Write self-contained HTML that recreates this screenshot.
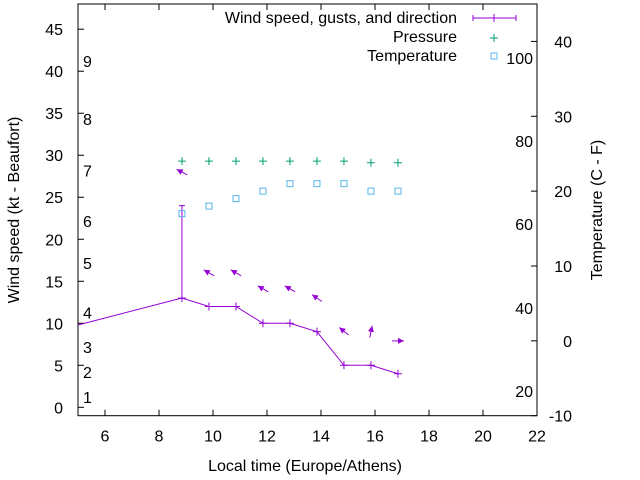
<!DOCTYPE html>
<html><head><meta charset="utf-8"><style>
body{margin:0;background:#fff}
svg{display:block;font-family:"Liberation Sans",sans-serif;font-size:16px}
</style></head><body>
<svg id="c" width="640" height="480" viewBox="0 0 640 480">
<g id="axes"></g><g id="marks"></g>
</svg>
<script>
const times=[8.85,9.85,10.85,11.85,12.85,13.85,14.85,15.85,16.85];
const windSpeed=[13,12,12,10,10,9,5,5,4];
const windStartTime=5, windStartValue=9.8;
const gustTime=8.85, gustLow=13, gustHigh=24;
const pressure=[29.3,29.3,29.3,29.3,29.3,29.3,29.3,29.1,29.1];
const temperature=[17,18,19,20,21,21,21,20,20];
const arrowY=[28,16,16,14.1,14.1,13,9.05,9,7.9];
const arrowDir=[153,150,150,150,150,145,141,79,0];
const xTicks=[6,8,10,12,14,16,18,20,22];
const yTicks=[0,5,10,15,20,25,30,35,40,45];
const y2Ticks=[-10,0,10,20,30,40];
const beaufortLabels=["1","2","3","4","5","6","7","8","9"];
const beaufortY=[1.2,4.2,7.2,11.3,17.2,22.2,28.2,34.3,41.2];
const fahrLabels=["20","40","60","80","100"];
const fahrC=[-6.7,4.4,15.6,26.7,37.8];

const L=78,R=537,T=4,B=415.7;
const X=v=>L+(v-5)/(22-5)*(R-L);
const Y=v=>B-(v+1)/(48+1)*(B-T);
const Y2=v=>B-(v+10)/(45+10)*(B-T);
const NS="http://www.w3.org/2000/svg";
function mk(tag,attrs,parent,text){const e=document.createElementNS(NS,tag);for(const k in attrs)e.setAttribute(k,attrs[k]);if(text!==undefined)e.textContent=text;parent.appendChild(e);return e;}
const ax=document.getElementById('axes'),mg=document.getElementById('marks');
let e;
e=mk('rect',{x:L,y:T,width:R-L,height:B-T,fill:'none',stroke:'#000','stroke-width':1},ax);


xTicks.forEach(t=>{const x=X(t);
mk('line',{x1:x,x2:x,y1:B,y2:B-6,stroke:'#000'},ax);mk('line',{x1:x,x2:x,y1:T,y2:T+6,stroke:'#000'},ax);
e=mk('text',{x:x,y:B+26,'text-anchor':'middle'},ax,t);

});
yTicks.forEach(t=>{const y=Y(t);
mk('line',{x1:L,x2:L+6,y1:y,y2:y,stroke:'#000'},ax);
e=mk('text',{x:L-15,y:y+6,'text-anchor':'end'},ax,t);

});
y2Ticks.forEach(t=>{const y=Y2(t);
mk('line',{x1:R-6,x2:R,y1:y,y2:y,stroke:'#000'},ax);
e=mk('text',{x:R+35,y:y+6,'text-anchor':'end'},ax,t);

});
beaufortLabels.forEach((b,i)=>{e=mk('text',{x:83,y:Y(beaufortY[i])+6},ax,b);

});
fahrLabels.forEach((f,i)=>{e=mk('text',{x:533,y:Y2(fahrC[i])+6,'text-anchor':'end'},ax,f);

});
e=mk('text',{x:305,y:471,'text-anchor':'middle'},ax,'Local time (Europe/Athens)');


e=mk('text',{transform:'translate(19,210) rotate(-90)','text-anchor':'middle'},ax,'Wind speed (kt - Beaufort)');


e=mk('text',{transform:'translate(602,210) rotate(-90)','text-anchor':'middle'},ax,'Temperature (C - F)');



const purple='#9400d3',green='#009e73',blue='#56b4e9';
let pts=[[X(windStartTime),Y(windStartValue)]].concat(times.map((t,i)=>[X(t),Y(windSpeed[i])]));
e=mk('polyline',{points:pts.map(p=>p.join(',')).join(' '),fill:'none',stroke:purple,'stroke-width':1},mg);


times.forEach((t,i)=>{const x=X(t),y=Y(windSpeed[i]);
e=mk('path',{d:`M${x-4},${y}H${x+4}M${x},${y-4}V${y+4}`,stroke:purple},mg);

});
e=mk('path',{d:`M${X(gustTime)},${Y(gustLow)}V${Y(gustHigh)}M${X(gustTime)-3},${Y(gustHigh)}H${X(gustTime)+3}`,stroke:purple},mg);


times.forEach((t,i)=>{const cx=X(t),cy=Y(arrowY[i]),a=arrowDir[i]*Math.PI/180,len=12;
const dx=Math.cos(a)*len/2,dy=-Math.sin(a)*len/2;
const hx=cx+dx,hy=cy+dy,tx=cx-dx,ty=cy-dy;
const ux=dx/(len/2),uy=dy/(len/2),px=-uy,py=ux;
e=mk('g',{},mg);


mk('line',{x1:tx,y1:ty,x2:hx,y2:hy,stroke:purple},e);
mk('polygon',{points:`${hx},${hy} ${hx-ux*6+px*3},${hy-uy*6+py*3} ${hx-ux*6-px*3},${hy-uy*6-py*3}`,fill:purple},e);});
pressure.forEach((p,i)=>{const x=X(times[i]),y=Y(p);
e=mk('path',{d:`M${x-4},${y}H${x+4}M${x},${y-4}V${y+4}`,stroke:green},mg);

});
temperature.forEach((v,i)=>{const x=X(times[i]),y=Y2(v);
e=mk('rect',{x:x-3,y:y-3,width:6,height:6,fill:'none',stroke:blue},mg);

});
const lg=mk('g',{},mg);


e=mk('text',{x:457,y:23,'text-anchor':'end'},lg,'Wind speed, gusts, and direction');


mk('path',{d:'M473,18H516M473,15V21M516,15V21M494,14V22',stroke:purple},lg);
e=mk('text',{x:457,y:42,'text-anchor':'end'},lg,'Pressure');


mk('path',{d:'M490,38H498M494,34V42',stroke:green},lg);
e=mk('text',{x:457,y:61,'text-anchor':'end'},lg,'Temperature');


mk('rect',{x:491,y:53,width:6,height:6,fill:'none',stroke:blue},lg);
</script>
</body></html>
